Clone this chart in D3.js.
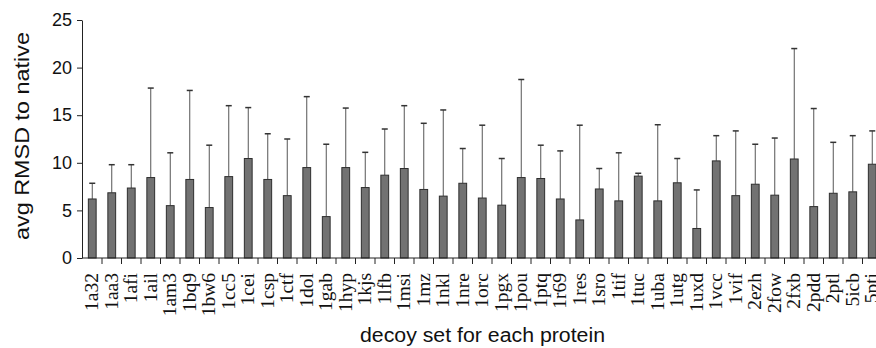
<!DOCTYPE html>
<html>
<head>
<meta charset="utf-8">
<script src="https://cdn.jsdelivr.net/npm/d3@7"></script>
<style>
  body { margin: 0; background: #fff; }
</style>
</head>
<body>
<div id="chart"></div>
<script>
// decoy sets, mean RMSD and top of the error bar (mean + sd)
const proteins = ["1a32","1aa3","1afi","1ail","1am3","1bq9","1bw6","1cc5","1cei","1csp",
  "1ctf","1dol","1gab","1hyp","1kjs","1lfb","1msi","1mz","1nkl","1nre",
  "1orc","1pgx","1pou","1ptq","1r69","1res","1sro","1tif","1tuc","1uba",
  "1utg","1uxd","1vcc","1vif","2ezh","2fow","2fxb","2pdd","2ptl","5icb","5pti"];
const avgRmsd = [6.2, 6.85, 7.35, 8.45, 5.5, 8.25, 5.3, 8.55, 10.45, 8.25,
  6.55, 9.5, 4.35, 9.5, 7.4, 8.7, 9.4, 7.2, 6.5, 7.85,
  6.3, 5.55, 8.45, 8.35, 6.2, 4.0, 7.25, 6.0, 8.6, 6.0,
  7.9, 3.1, 10.2, 6.55, 7.75, 6.6, 10.4, 5.4, 6.8, 6.95, 9.85];
const errTop = [7.85, 9.8, 9.8, 17.85, 11.05, 17.6, 11.85, 16.0, 15.8, 13.05,
  12.5, 16.95, 11.95, 15.75, 11.1, 13.55, 16.0, 14.15, 15.55, 11.5,
  13.95, 10.45, 18.75, 11.85, 11.25, 13.95, 9.4, 11.05, 8.9, 14.0,
  10.45, 7.15, 12.85, 13.35, 11.95, 12.6, 22.0, 15.7, 12.15, 12.85, 13.35];
const yTicks = [0, 5, 10, 15, 20, 25];

const width = 876;
const height = 348;

const svg = d3.select("#chart")
    .append("svg")
    .attr("width", width)
    .attr("height", height);

const x = d3.scaleBand()
    .domain(proteins)
    .range([82.5, 882])
    .paddingInner(0.6)
    .paddingOuter(0.3);

const y = d3.scaleLinear()
    .domain([0, 25])
    .range([258, 20]);

const data = proteins.map((p, i) => ({ name: p, value: avgRmsd[i], top: errTop[i] }));

// error bars first so the bar covers the bottom of the line
const err = svg.append("g");
err.selectAll("line.stem")
    .data(data)
    .enter().append("line")
    .attr("class", "stem")
    .attr("x1", d => x(d.name) + x.bandwidth() / 2)
    .attr("x2", d => x(d.name) + x.bandwidth() / 2)
    .attr("y1", d => y(d.value))
    .attr("y2", d => y(d.top))
    .attr("stroke", "#555")
    .attr("stroke-width", 1);

err.selectAll("line.cap")
    .data(data)
    .enter().append("line")
    .attr("class", "cap")
    .attr("x1", d => x(d.name) + x.bandwidth() / 2 - 3)
    .attr("x2", d => x(d.name) + x.bandwidth() / 2 + 3)
    .attr("y1", d => y(d.top))
    .attr("y2", d => y(d.top))
    .attr("stroke", "#333")
    .attr("stroke-width", 1.5);

svg.append("g")
    .selectAll("rect")
    .data(data)
    .enter().append("rect")
    .attr("x", d => x(d.name))
    .attr("y", d => y(d.value))
    .attr("width", x.bandwidth())
    .attr("height", d => y(0) - y(d.value))
    .attr("fill", "#727272")
    .attr("stroke", "#2e2e2e")
    .attr("stroke-width", 1);

// y axis
const yAxis = svg.append("g")
    .attr("transform", "translate(82,0)")
    .call(d3.axisLeft(y).tickValues(yTicks).tickSize(5).tickSizeOuter(0));
yAxis.select(".domain").attr("stroke", "#222");
yAxis.selectAll(".tick line").attr("stroke", "#222");
yAxis.selectAll("text")
    .attr("x", -10)
    .style("font-family", "Liberation Sans, Arial, sans-serif")
    .style("font-size", "18px")
    .attr("fill", "#111");

// x axis: baseline, ticks between bars, serif labels
const step = x.step();
const xg = svg.append("g");
xg.append("line")
    .attr("x1", 82).attr("x2", width)
    .attr("y1", y(0)).attr("y2", y(0))
    .attr("stroke", "#222");
xg.selectAll("line.tick")
    .data(proteins)
    .enter().append("line")
    .attr("class", "tick")
    .attr("x1", d => x(d) + x.bandwidth() / 2 + step / 2)
    .attr("x2", d => x(d) + x.bandwidth() / 2 + step / 2)
    .attr("y1", y(0))
    .attr("y2", y(0) + 6)
    .attr("stroke", "#222");
xg.selectAll("text")
    .data(proteins)
    .enter().append("text")
    .attr("transform", d => `translate(${x(d) + x.bandwidth() / 2 + 6}, 273) rotate(-90)`)
    .attr("text-anchor", "end")
    .style("font-family", "Liberation Serif, Times New Roman, serif")
    .style("font-size", "19.5px")
    .attr("fill", "#111")
    .text(d => d);

// titles (stretched a little, as in the reference)
svg.append("text")
    .attr("transform", "translate(29, 136) rotate(-90)")
    .attr("text-anchor", "middle")
    .attr("textLength", 208)
    .attr("lengthAdjust", "spacingAndGlyphs")
    .style("font-family", "Liberation Sans, Arial, sans-serif")
    .style("font-size", "21px")
    .attr("fill", "#111")
    .text("avg RMSD to native");

svg.append("text")
    .attr("x", 482.5)
    .attr("y", 342)
    .attr("text-anchor", "middle")
    .attr("textLength", 245)
    .attr("lengthAdjust", "spacingAndGlyphs")
    .style("font-family", "Liberation Sans, Arial, sans-serif")
    .style("font-size", "19.5px")
    .attr("fill", "#111")
    .text("decoy set for each protein");
</script>
</body>
</html>
